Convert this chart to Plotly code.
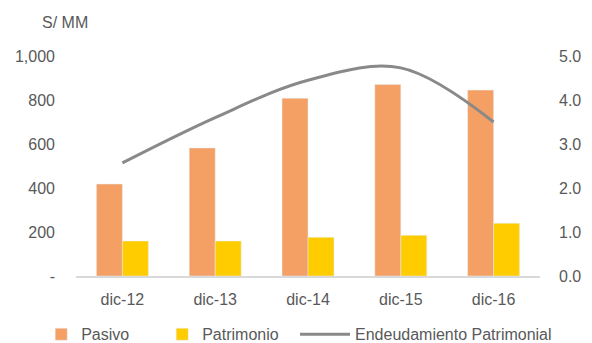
import plotly.graph_objects as go

# Data
periodos = ["dic-12", "dic-13", "dic-14", "dic-15", "dic-16"]
pasivo = [418, 582, 808, 871, 845]
patrimonio = [159, 159, 176, 185, 240]
endeudamiento = [2.57, 3.6, 4.45, 4.73, 3.5]

font_color = "#595959"
font_family = "Liberation Sans, Arial, sans-serif"

fig = go.Figure()
fig.add_trace(go.Bar(x=periodos, y=pasivo, name="Pasivo",
                     marker=dict(color="#F4A065"), legend="legend"))
fig.add_trace(go.Bar(x=periodos, y=patrimonio, name="Patrimonio",
                     marker=dict(color="#FFCC00"), legend="legend"))
fig.add_trace(go.Scatter(x=periodos, y=endeudamiento, name="Endeudamiento Patrimonial",
                         yaxis="y2", mode="lines", legend="legend2",
                         line=dict(color="#898989", width=3, shape="spline", smoothing=1.0)))

legend_common = dict(orientation="h", yanchor="middle", y=-0.265,
                     font=dict(size=16, color=font_color),
                     traceorder="normal", tracegroupgap=0,
                     bgcolor="rgba(0,0,0,0)")

fig.update_layout(
    width=592, height=343,
    margin=dict(l=76, r=52, t=56, b=67, autoexpand=False),
    paper_bgcolor="white", plot_bgcolor="white",
    font=dict(family=font_family, size=16, color=font_color),
    barmode="group", bargap=0.44, bargroupgap=0,
    showlegend=True,
    legend=dict(**legend_common, x=-0.075, xanchor="left", itemwidth=30,
                entrywidth=76, entrywidthmode="pixels"),
    legend2=dict(**legend_common, x=0.472, xanchor="left", itemwidth=50),
    xaxis=dict(showgrid=False, showline=True, linecolor="#D9D9D9", linewidth=2,
               ticks="", tickfont=dict(size=16, color=font_color), ticklabelstandoff=8),
    yaxis=dict(range=[0, 1000], tickvals=[0, 200, 400, 600, 800, 1000],
               ticktext=["-", "200", "400", "600", "800", "1,000"],
               showgrid=False, zeroline=False, showline=False, ticks="",
               ticklabelstandoff=20),
    yaxis2=dict(range=[0, 5], overlaying="y", side="right", tickvals=[0, 1, 2, 3, 4, 5],
                tickformat=".1f", showgrid=False, zeroline=False, showline=False, ticks="",
                ticklabelstandoff=18),
    annotations=[dict(text="S/ MM", xref="paper", yref="paper", x=-0.024, y=1.0,
                      yshift=34, xanchor="center", yanchor="middle", showarrow=False,
                      font=dict(size=16, color=font_color))],
)

fig.write_html("out.html")
